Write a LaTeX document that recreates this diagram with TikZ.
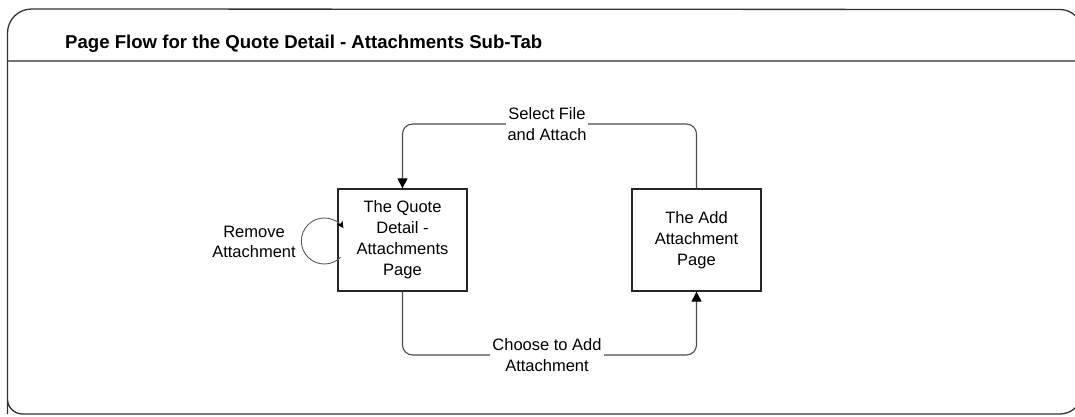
\documentclass[tikz,border=0pt]{standalone}
\usepackage{fontspec}
\setmainfont{Liberation Sans}
\usetikzlibrary{arrows.meta}
\begin{document}
\begin{tikzpicture}[x=1pt,y=-1pt,
  frame/.style={draw=black!80,line width=1.3pt},
  sep/.style={draw=black!55,line width=2.6pt},
  pagebox/.style={draw=black!85,line width=1.3pt,minimum width=129pt,minimum height=102pt,
    inner sep=0pt,align=center,font=\fontsize{16.5}{21}\selectfont},
  lbl/.style={fill=white,inner sep=2pt,align=center,font=\fontsize{16.5}{21}\selectfont},
  conn/.style={draw=black!70,line width=1.1pt,rounded corners=10pt},
  tip/.style={-{Triangle[black,width=10pt,length=10pt]}},
  looptip/.style={-{Stealth[black,width=7pt,length=7pt]}}]
\useasboundingbox (0,0) rectangle (1075,416);

% outer panel, running off the right edge
\draw[frame] (7.5,414) -- (7.5,33) arc[start angle=180,end angle=270,radius=24]
  -- (1060,9.5) arc[start angle=270,end angle=360,radius=22]
  -- (1082,392) arc[start angle=0,end angle=90,radius=22]
  -- (22.5,414) arc[start angle=90,end angle=180,radius=15] -- cycle;
\draw[sep] (7.5,61) -- (1082,61);
\node[anchor=base west,inner sep=0pt,font=\fontsize{18.6}{23}\bfseries] (title) at (65,48)
  {Page Flow for the Quote Detail - Attachments Sub-Tab};

% pages
\node[pagebox] (qd) at (402.5,240) {The Quote\\Detail -\\Attachments\\Page};
\node[pagebox] (aa) at (696.5,240) {The Add\\Attachment\\Page};

% transitions
\coordinate (topmid) at (547,124);
\coordinate (botmid) at (547,355);
\draw[conn,tip] (aa.north) |- (topmid) -| (qd.north);
\node[lbl] (selectlbl) at (topmid) {Select File\\and Attach};
\draw[conn,tip] (qd.south) |- (botmid) -| (aa.south);
\node[lbl] (chooselbl) at (botmid) {Choose to Add\\Attachment};

% self transition
\coordinate (lc) at ([xshift=-13pt,yshift=-1pt]qd.west);
\draw[draw=black!65,line width=0.9pt,looptip] (lc) ++(45:23)
  arc[start angle=45,end angle=326,radius=23];
\node[align=center,inner sep=0pt,font=\fontsize{16.5}{20}\selectfont] (removelbl) at (254,242)
  {Remove\\Attachment};
\end{tikzpicture}
\end{document}
